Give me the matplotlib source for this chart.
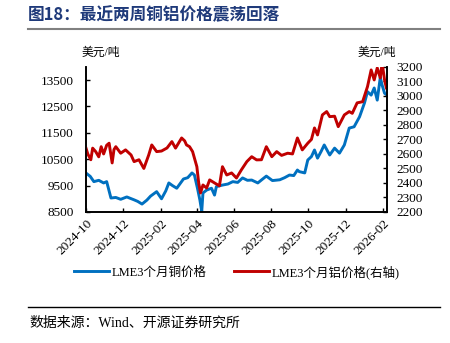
import pandas as pd
import numpy as np
import matplotlib
matplotlib.use('Agg')
import matplotlib.pyplot as plt
import matplotlib.dates as mdates

plt.rcParams['font.family'] = ['Liberation Serif', 'Noto Sans CJK SC']
plt.rcParams['axes.unicode_minus'] = False

# LME 3个月铜 (左轴, 美元/吨)
cu_dates = ['2024-10-01', '2024-10-08', '2024-10-14', '2024-10-22', '2024-10-30', '2024-11-04',
            '2024-11-11', '2024-11-19', '2024-11-27', '2024-12-07', '2024-12-19', '2024-12-25',
            '2025-01-01', '2025-01-09', '2025-01-15', '2025-01-25', '2025-02-02', '2025-02-09',
            '2025-02-14', '2025-02-20', '2025-02-27', '2025-03-10', '2025-03-17', '2025-03-24',
            '2025-03-28', '2025-04-02', '2025-04-06', '2025-04-09', '2025-04-11', '2025-04-17',
            '2025-04-25', '2025-04-30', '2025-05-03', '2025-05-13', '2025-05-22', '2025-05-30',
            '2025-06-07', '2025-06-15', '2025-06-23', '2025-06-30', '2025-07-10', '2025-07-18',
            '2025-07-24', '2025-08-03', '2025-08-15', '2025-08-23', '2025-08-31', '2025-09-07',
            '2025-09-13', '2025-09-16', '2025-09-25', '2025-09-30', '2025-10-06', '2025-10-11',
            '2025-10-16', '2025-10-22', '2025-10-27', '2025-11-05', '2025-11-13', '2025-11-21',
            '2025-11-29', '2025-12-07', '2025-12-15', '2025-12-24', '2026-01-01', '2026-01-06',
            '2026-01-12', '2026-01-17', '2026-01-22', '2026-01-27', '2026-01-30', '2026-02-03',
            '2026-02-06']
cu_price = [9977, 9850, 9650, 9700, 9600, 9650,
            9030, 9050, 8980, 9070, 8960, 8900,
            8800, 8950, 9100, 9270, 9000, 9300,
            9600, 9500, 9400, 9750, 9800, 9980,
            9900, 9400, 8950, 8520, 9220, 9330,
            9400, 9140, 9460, 9520, 9560, 9650,
            9620, 9790, 9700, 9710, 9600, 9750,
            9860, 9690, 9720, 9800, 9900, 9880,
            10090, 10030, 9980, 10470, 10600, 10850,
            10540, 10800, 11040, 10660, 10920, 10730,
            11040, 11680, 11730, 12110, 12630, 13060,
            12930, 13200, 12740, 13600, 13310, 13000,
            12950]

# LME 3个月铝 (右轴, 美元/吨)
al_dates = ['2024-10-01', '2024-10-04', '2024-10-09', '2024-10-12', '2024-10-17', '2024-10-22',
            '2024-10-26', '2024-10-30', '2024-11-04', '2024-11-08', '2024-11-13', '2024-11-16',
            '2024-11-19', '2024-11-27', '2024-12-05', '2024-12-14', '2024-12-19', '2024-12-27',
            '2025-01-04', '2025-01-12', '2025-01-17', '2025-01-25', '2025-02-02', '2025-02-11',
            '2025-02-19', '2025-02-25', '2025-03-07', '2025-03-12', '2025-03-15', '2025-03-20',
            '2025-03-25', '2025-04-01', '2025-04-04', '2025-04-07', '2025-04-11', '2025-04-17',
            '2025-04-22', '2025-04-30', '2025-05-08', '2025-05-13', '2025-05-20', '2025-05-28',
            '2025-06-05', '2025-06-13', '2025-06-22', '2025-06-30', '2025-07-08', '2025-07-16',
            '2025-07-24', '2025-08-02', '2025-08-10', '2025-08-18', '2025-08-28', '2025-09-05',
            '2025-09-13', '2025-09-21', '2025-09-30', '2025-10-06', '2025-10-11', '2025-10-16',
            '2025-10-24', '2025-10-31', '2025-11-05', '2025-11-13', '2025-11-19', '2025-11-29',
            '2025-12-07', '2025-12-12', '2025-12-20', '2025-12-29', '2026-01-06', '2026-01-12',
            '2026-01-17', '2026-01-22', '2026-01-27', '2026-01-30', '2026-02-03', '2026-02-06']
al_price = [2641, 2600, 2560, 2640, 2616, 2580,
            2650, 2600, 2660, 2674, 2538, 2630,
            2650, 2605, 2628, 2593, 2547, 2560,
            2500, 2593, 2662, 2616, 2620, 2641,
            2685, 2640, 2710, 2690, 2662, 2650,
            2616, 2512, 2400, 2331, 2386, 2365,
            2421, 2400, 2380, 2512, 2455, 2469,
            2434, 2490, 2547, 2581, 2559, 2560,
            2650, 2581, 2616, 2590, 2605, 2600,
            2710, 2628, 2674, 2700, 2779, 2731,
            2869, 2892, 2857, 2860, 2788, 2869,
            2892, 2880, 2952, 2960, 3064, 3179,
            3110, 3193, 3124, 3228, 3110, 3055]

cu = pd.Series(cu_price, index=pd.to_datetime(cu_dates))
al = pd.Series(al_price, index=pd.to_datetime(al_dates))

blue = '#0070C0'
red = '#C00000'

fig = plt.figure(figsize=(4.5, 3.43), dpi=100)
ax = fig.add_axes([0.191, 0.382, 0.669, 0.423])
ax2 = ax.twinx()

l1, = ax.plot(cu.index, cu.values, color=blue, lw=2.1, label='LME3个月铜价格')
l2, = ax2.plot(al.index, al.values, color=red, lw=2.1, label='LME3个月铝价格(右轴)')

ax.set_ylim(8500, 14000)
ax.set_yticks(np.arange(8500, 14000, 1000))
ax2.set_ylim(2200, 3200)
ax2.set_yticks(np.arange(2200, 3201, 100))
ax.set_xlim(pd.Timestamp('2024-10-01'), pd.Timestamp('2026-02-07'))
ax.xaxis.set_major_locator(mdates.MonthLocator(bymonth=[2, 4, 6, 8, 10, 12]))
ax.xaxis.set_major_formatter(mdates.DateFormatter('%Y-%m'))

for a in (ax, ax2):
    a.spines['top'].set_visible(False)
    for s in a.spines.values():
        s.set_linewidth(1.2)
    a.tick_params(direction='in', length=3, width=1, labelsize=9.5)
ax.tick_params(axis='y', pad=9)
ax2.tick_params(axis='y', pad=7)
ax.tick_params(axis='x', pad=4)
for lab in ax.get_xticklabels():
    lab.set_rotation(45)
    lab.set_ha('right')
    lab.set_rotation_mode('anchor')

fig.text(0.182, 0.845, '美元/吨', fontsize=8.5, ha='left', va='center')
fig.text(0.795, 0.845, '美元/吨', fontsize=8.5, ha='left', va='center')

fig.legend(handles=[l1, l2], loc='center', bbox_to_anchor=(0.527, 0.207), ncol=2,
           frameon=False, fontsize=9, handlelength=2.8, columnspacing=2.2,
           handletextpad=0.2)

fig.text(0.062, 0.955, '图18：最近两周铜铝价格震荡回落', fontsize=12, fontweight='bold',
         color='#1F3A7A', ha='left', va='center', family=['Noto Sans CJK SC'])
fig.add_artist(plt.Line2D([0.062, 0.978], [0.915, 0.915], color='#808080', lw=1.5))
fig.add_artist(plt.Line2D([0.062, 0.978], [0.105, 0.105], color='black', lw=1))
fig.text(0.065, 0.058, '数据来源：Wind、开源证券研究所', fontsize=10, ha='left', va='center')

fig.savefig('out.png', dpi=100)
